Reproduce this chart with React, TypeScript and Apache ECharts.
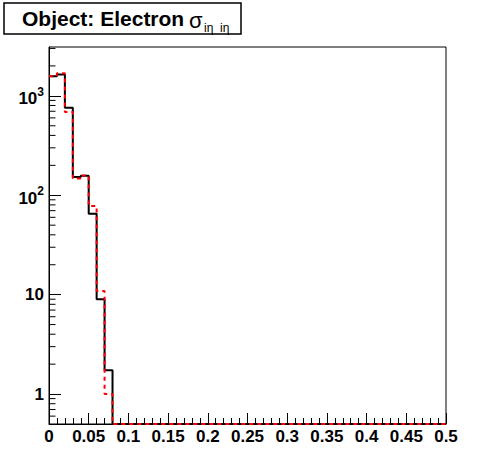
import React, { useEffect, useRef } from "react";
import * as echarts from "echarts";

// Histogram bins: width 0.01, starting at 0 (50 bins up to 0.5)
const BIN_WIDTH = 0.01;
const N_BINS = 50;
const blackCounts = [1570, 1638, 759, 153, 157, 65, 9.0, 1.74];
const redCounts = [1575, 1684, 687, 147, 158, 78, 10.9, 1.0];

const X_MIN = 0;
const X_MAX = 0.5;
const X_INTERVAL = 0.05;
const Y_MIN = 0.5;
const Y_MAX = 3100;
const yMantissas = [2, 3, 4, 5, 6, 7, 8, 9];
const yDecades = [0.1, 1, 10, 100, 1000];

const FONT = "'Liberation Sans', Arial, Helvetica, sans-serif";

function fullBins(vals: number[]): number[] {
  const out: number[] = [];
  for (let i = 0; i < N_BINS; i++) out.push(i < vals.length ? vals[i] : 0);
  return out;
}

function stepData(vals: number[]): number[][] {
  const full = fullBins(vals);
  const pts = full.map((v, i) => [+(i * BIN_WIDTH).toFixed(4), Math.max(v, Y_MIN)]);
  pts.push([+(N_BINS * BIN_WIDTH).toFixed(4), Math.max(full[full.length - 1], Y_MIN)]);
  return pts;
}

function minorTicks(): number[] {
  const out: number[] = [];
  for (const d of yDecades) {
    for (const m of yMantissas) {
      const v = +(d * m).toPrecision(3);
      if (v > Y_MIN && v < Y_MAX) out.push(v);
    }
  }
  return out;
}

export default function App() {
  const ref = useRef<HTMLDivElement>(null);
  useEffect(() => {
    if (!ref.current) return;
    const chart = echarts.init(ref.current, undefined, { renderer: "svg" });
    const option: any = {
      animation: false,
      backgroundColor: "#fff",
      textStyle: { fontFamily: FONT },
      grid: {
        left: 49,
        top: 47,
        right: 50,
        bottom: 48,
        show: true,
        borderColor: "#000",
        borderWidth: 1,
        backgroundColor: "#fff",
        containLabel: false,
        outerBoundsMode: "none",
      },
      xAxis: {
        type: "value",
        min: X_MIN,
        max: X_MAX,
        interval: X_INTERVAL,
        axisLine: { show: true, lineStyle: { color: "#000", width: 1 } },
        axisTick: { show: true, inside: true, length: 11, lineStyle: { color: "#000", width: 1 } },
        minorTick: { show: true, splitNumber: 5, length: 6, lineStyle: { color: "#000", width: 1 } },
        splitLine: { show: false },
        minorSplitLine: { show: false },
        axisLabel: {
          color: "#000",
          fontSize: 17,
          fontWeight: "bold",
          fontFamily: FONT,
          margin: 4,
          formatter: (v: number) => String(+v.toFixed(2)),
        },
      },
      yAxis: {
        type: "log",
        logBase: 10,
        min: Y_MIN,
        max: Y_MAX,
        axisLine: { show: true, lineStyle: { color: "#000", width: 1 } },
        axisTick: { show: true, inside: true, length: 12, lineStyle: { color: "#000", width: 1 } },
        splitLine: { show: false },
        axisLabel: {
          color: "#000",
          fontSize: 17,
          fontWeight: "bold",
          fontFamily: FONT,
          margin: 5,
          showMinLabel: false,
          showMaxLabel: false,
          formatter: (v: number) => {
            const e = Math.round(Math.log10(v));
            if (Math.abs(Math.log10(v) - e) > 1e-6) return "";
            if (e === 0) return "1";
            if (e === 1) return "10";
            return "{b|10}{s|" + e + "}";
          },
          rich: {
            b: { fontSize: 17, fontWeight: "bold", fontFamily: FONT, color: "#000", lineHeight: 20, padding: [6, 0, 0, 0] },
            s: { fontSize: 12, fontWeight: "bold", fontFamily: FONT, color: "#000", lineHeight: 20, verticalAlign: "top", padding: [0, 0, 6, 0] },
          },
        },
      },
      graphic: [
        {
          type: "rect",
          shape: { x: 4, y: 3, width: 237, height: 31 },
          style: { fill: "#fff", stroke: "#000", lineWidth: 1.5 },
        },
        {
          type: "text",
          x: 22,
          y: 18,
          style: {
            text: "Object: Electron",
            fill: "#000",
            font: "bold 21px " + FONT,
            verticalAlign: "middle",
          },
        },
        {
          type: "text",
          x: 189,
          y: 20,
          style: { text: "σ", fill: "#000", font: "22px " + FONT, verticalAlign: "middle" },
        },
        {
          type: "text",
          x: 204,
          y: 28,
          style: { text: "iη  iη", fill: "#000", font: "12px " + FONT, verticalAlign: "middle" },
        },
      ],
      series: [
        {
          type: "custom",
          silent: true,
          clip: false,
          data: minorTicks().map((v) => [X_MIN, v]),
          encode: { x: 0, y: 1 },
          renderItem: (params: any, api: any) => {
            const p = api.coord([api.value(0), api.value(1)]);
            return {
              type: "line",
              shape: { x1: p[0], y1: p[1], x2: p[0] + 6.5, y2: p[1] },
              style: { stroke: "#000", lineWidth: 1 },
            };
          },
          z: 3,
        },
        {
          type: "line",
          step: "end",
          symbol: "none",
          clip: false,
          data: stepData(blackCounts),
          lineStyle: { color: "#000", width: 2 },
          z: 4,
        },
        {
          type: "line",
          step: "end",
          symbol: "none",
          clip: false,
          data: stepData(redCounts),
          lineStyle: { color: "#ff0000", width: 2, type: [4, 4] },
          z: 5,
        },
      ],
    };
    chart.setOption(option);
    return () => chart.dispose();
  }, []);
  return (
    <div
      ref={ref}
      style={{ position: "fixed", left: 0, top: 0, width: 496, height: 472, background: "#fff" }}
    />
  );
}
